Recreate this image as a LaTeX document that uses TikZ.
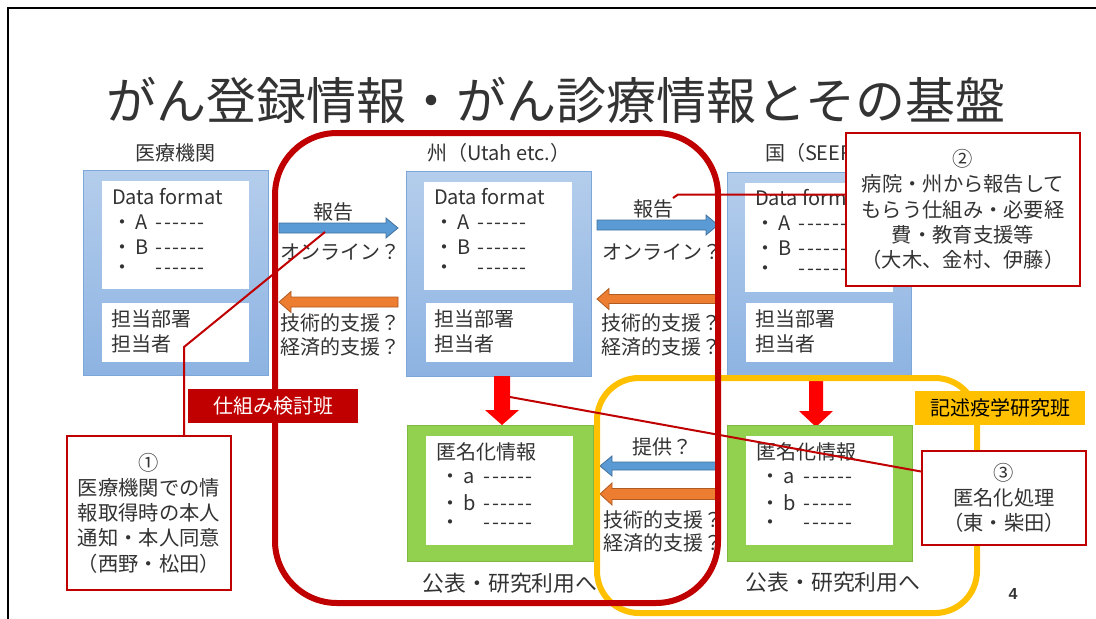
\documentclass[tikz,border=0pt]{standalone}
\usepackage{fontspec}
\usetikzlibrary{calc}
\newfontfamily\jp{Noto Sans CJK JP}
\newfontfamily\lib{Liberation Sans}
\definecolor{dred}{HTML}{C00000}
\definecolor{yel}{HTML}{FFC000}
\definecolor{txt}{HTML}{333333}
\definecolor{btop}{HTML}{B4CDEC}
\definecolor{bbot}{HTML}{8DB3E2}
\definecolor{bborder}{HTML}{7DA7D9}
\definecolor{grn}{HTML}{92D050}
\definecolor{grnd}{HTML}{7FB83E}
\definecolor{barr}{HTML}{5B9BD5}
\definecolor{barrd}{HTML}{41719C}
\definecolor{oarr}{HTML}{ED7D31}
\definecolor{oarrd}{HTML}{AE5A21}
\definecolor{redarr}{HTML}{FF0000}
\newcommand\dd{\makebox[8.4pt]{-}}
\newcommand\dashline{\dd\dd\dd\dd\dd\dd}
\newcommand\bl[1]{・\hspace{3pt}\makebox[20pt][l]{#1}\dashline}
% block arrow: tailx, tipx, y, headlen(signed), body half, head half, style
\newcommand\barrow[7]{\path[#7] (#1,{#3-#5}) -- ({#2-(#4)},{#3-#5}) -- ({#2-(#4)},{#3-#6}) -- (#2,#3) -- ({#2-(#4)},{#3+#6}) -- ({#2-(#4)},{#3+#5}) -- (#1,{#3+#5}) -- cycle;}
% vertical arrow: cx, ytop, ytip, body half, head half, head len
\newcommand\varrow[6]{\fill[redarr] ({#1-#4},#2) -- ({#1+#4},#2) -- ({#1+#4},{#3-#6}) -- ({#1+#5},{#3-#6}) -- (#1,#3) -- ({#1-#5},{#3-#6}) -- ({#1-#4},{#3-#6}) -- cycle;}
\begin{document}
\begin{tikzpicture}[x=1pt,y=-1pt,
  every node/.style={inner sep=0pt, outer sep=0pt},
  t/.style={font=\jp\fontsize{20}{25}\selectfont, text=txt},
  lw/.style={t, anchor=west},
  bluebox/.style={draw=bborder, line width=0.8pt, top color=btop, bottom color=bbot, anchor=north west},
  wbox/.style={fill=white, anchor=north west},
  gbox/.style={fill=grn, draw=grnd, line width=0.6pt, anchor=north west},
  callout/.style={font=\jp\fontsize{20.3}{25.2}\selectfont, text=txt, draw=dred, line width=2.5pt, fill=white, align=center},
  conn/.style={draw=dred, line width=2pt},
  barrowst/.style={fill=barr, draw=barrd, line width=0.8pt},
  oarrowst/.style={fill=oarr, draw=oarrd, line width=0.8pt},
  tag/.style={t, minimum width=170, minimum height=34, anchor=north west},
  pub/.style={font=\jp\fontsize{21.8}{25}\selectfont, text=txt},
]
\useasboundingbox (0,0) rectangle (1096,619);
\fill[white] (0,0) rectangle (1096,619);
\draw[line width=2pt] (8,619) -- (8,8) -- (1096,8);

% title
\node[font=\jp\fontsize{50}{60}\selectfont, text=txt] (title) at (556,100) {がん登録情報・がん診療情報とその基盤};

% ---- 医療機関
\node[t] (hospL) at (175,153) {医療機関};
\node[bluebox, minimum width=185, minimum height=205] (hosp) at (83,170) {};
\node[wbox, minimum width=147, minimum height=108] (hospD) at (102,181) {};
\node[wbox, minimum width=147, minimum height=59] (hospP) at (102,303) {};
\node[lw] (h1) at (112,197) {Data format};
\node[lw] (h2) at (112,222) {\bl{A}};
\node[lw] (h3) at (112,247) {\bl{B}};
\node[lw] (h4) at (112,270) {\bl{}};
\node[lw] (h5) at (111,319) {担当部署};
\node[lw] (h6) at (111,344) {担当者};

% ---- 州
\node[lw] (stateL) at (427,153) {州（Utah etc.）};
\node[bluebox, minimum width=185, minimum height=205] (state) at (406,171) {};
\node[wbox, minimum width=148, minimum height=108] (stateD) at (424,182) {};
\node[wbox, minimum width=147, minimum height=59] (stateP) at (426,303) {};
\node[lw] (s1) at (434,197) {Data format};
\node[lw] (s2) at (434,222) {\bl{A}};
\node[lw] (s3) at (434,247) {\bl{B}};
\node[lw] (s4) at (434,270) {\bl{}};
\node[lw] (s5) at (434,319) {担当部署};
\node[lw] (s6) at (434,344) {担当者};

% ---- 国
\node[lw] (natL) at (765,153) {国（SEER）};
\node[bluebox, minimum width=184, minimum height=205] (nat) at (727,172) {};
\node[wbox, minimum width=148, minimum height=109] (natD) at (745,183) {};
\node[wbox, minimum width=147, minimum height=59] (natP) at (746,303) {};
\node[lw] (n1) at (755,198) {Data format};
\node[lw] (n2) at (755,223) {\bl{A}};
\node[lw] (n3) at (755,248) {\bl{B}};
\node[lw] (n4) at (755,271) {\bl{}};
\node[lw] (n5) at (755,319) {担当部署};
\node[lw] (n6) at (755,344) {担当者};

% ---- block arrows
\barrow{279}{398}{228}{12}{5}{10}{barrowst}
\barrow{398}{279}{302}{-12}{5}{10.5}{oarrowst}
\barrow{597}{718}{225}{12}{5}{10}{barrowst}
\barrow{718}{597}{299}{-12}{4.5}{10.5}{oarrowst}
\barrow{717}{600}{466}{-12}{4}{10}{barrowst}
\barrow{717}{600}{494}{-12}{5.5}{11}{oarrowst}

\node[t] (r1) at (333,212) {報告};
\node[lw] (o1) at (280,252) {オンライン？};
\node[lw] (g1) at (280,323) {技術的支援？};
\node[lw] (e1) at (280,347) {経済的支援？};
\node[t] (r2) at (653,209) {報告};
\node[lw] (o2) at (602,252) {オンライン？};
\node[lw] (g2) at (601,323) {技術的支援？};
\node[lw] (e2) at (601,347) {経済的支援？};
\node[t] (p3) at (662,447) {提供？};
\node[lw] (g3) at (603,520) {技術的支援？};
\node[lw] (e3) at (603,543) {経済的支援？};

% ---- red down arrows
\varrow{502}{376}{425}{8}{17}{15}
\varrow{816}{378}{427}{7}{17}{16}

% ---- green boxes
\node[gbox, minimum width=186, minimum height=136] (anM) at (407,425) {};
\node[wbox, minimum width=147, minimum height=109] (anMi) at (426,436) {};
\node[lw] (a1) at (436,452) {匿名化情報};
\node[lw] (a2) at (440,478) {\bl{a}};
\node[lw] (a3) at (440,503) {\bl{b}};
\node[lw] (a4) at (440,525) {\bl{}};
\node[pub] (pubM) at (510,583) {公表・研究利用へ};

\node[gbox, minimum width=185, minimum height=136] (anN) at (727,425) {};
\node[wbox, minimum width=147, minimum height=109] (anNi) at (746,436) {};
\node[lw] (b1) at (756,452) {匿名化情報};
\node[lw] (b2) at (760,478) {\bl{a}};
\node[lw] (b3) at (760,503) {\bl{b}};
\node[lw] (b4) at (760,525) {\bl{}};
\node[pub] (pubN) at (833,582) {公表・研究利用へ};

% ---- group outlines
\draw[yel, line width=6pt, rounded corners=42] (597,378) rectangle (977,613);
\draw[dred, line width=6pt, rounded corners=62] (275,133) rectangle (718,603);

\node[tag, fill=dred, text=white] (team1) at (188,389) {仕組み検討班};
\node[tag, fill=yel, text=black] (team2) at (915,391) {記述疫学研究班};

% ---- callouts
\node[callout, minimum width=164, minimum height=154] (c1) at (149,513) {①\\医療機関での情\\報取得時の本人\\通知・本人同意\\（西野・松田）};
\node[callout, minimum width=234, minimum height=153] (c2) at (963,209.5) {②\\病院・州から報告して\\もらう仕組み・必要経\\費・教育支援等\\（大木、金村、伊藤）};
\node[callout, minimum width=164, minimum height=94] (c3) at (1004,498) {③\\匿名化処理\\（東・柴田）};

% ---- connectors
\coordinate (k1) at (184,347);
\coordinate (q1) at (325,232);
\draw[conn] (c1.north -| k1) -- (k1) -- (q1);
\coordinate (q2) at (673,198);
\coordinate (k2) at (678,194.5);
\draw[conn] (q2) -- (k2) -- (k2 -| c2.west);
\coordinate (q3) at (510,397);
\draw[conn] (q3) -- ($(c3.north west)!0.22!(c3.south west)$);

\node[font=\lib\bfseries\fontsize{16}{18}\selectfont, text=txt] (page) at (1013,594) {4};
\end{tikzpicture}
\end{document}
